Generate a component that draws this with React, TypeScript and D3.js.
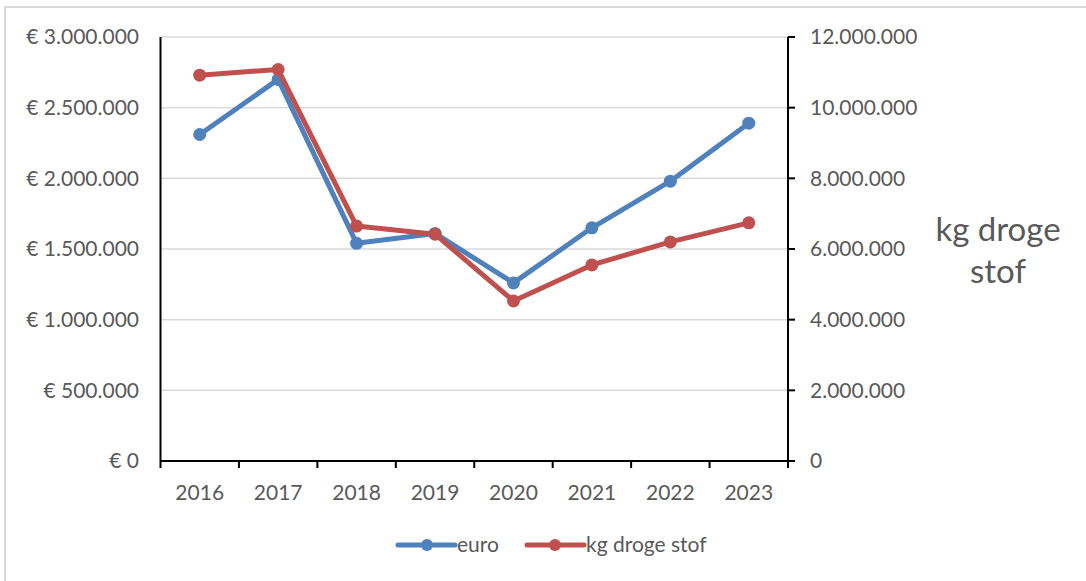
import React from "react";
import * as d3 from "d3";

const years = ["2016", "2017", "2018", "2019", "2020", "2021", "2022", "2023"];
const euro = [2310000, 2700000, 1540000, 1610000, 1260000, 1650000, 1980000, 2390000];
const kgDrogeStof = [10920000, 11080000, 6650000, 6420000, 4530000, 5550000, 6200000, 6740000];
const leftTicks = [0, 500000, 1000000, 1500000, 2000000, 2500000, 3000000];
const rightTicks = [0, 2000000, 4000000, 6000000, 8000000, 10000000, 12000000];

const W = 1086;
const H = 581;
const left = 160.5;
const right = 788;
const top = 37;
const bottom = 461;

const BLUE = "#4F81BD";
const RED = "#C0504D";
const TXT = "#595959";
const FONT = "Lato, 'Open Sans', sans-serif";

const fmt = (v: number) => (v === 0 ? "0" : d3.format(",")(v).replace(/,/g, "."));

export default function App() {
  const x = d3.scaleBand<string>().domain(years).range([left, right]);
  const yL = d3.scaleLinear().domain([0, 3000000]).range([bottom, top]);
  const yR = d3.scaleLinear().domain([0, 12000000]).range([bottom, top]);
  const cx = (d: string) => (x(d) as number) + x.bandwidth() / 2;

  const lineL = d3.line<number>().x((_, i) => cx(years[i])).y((d) => yL(d));
  const lineR = d3.line<number>().x((_, i) => cx(years[i])).y((d) => yR(d));

  const boundaries = years.map((y) => x(y) as number).concat([right]);

  return (
    <svg width={W} height={H} style={{ position: "absolute", left: 0, top: 0 }} fontFamily={FONT}>
      <rect x={0} y={0} width={W} height={H} fill="#fff" />
      <rect x={5} y={7} width={W + 10} height={H + 10} fill="#fff" stroke="#D9D9D9" strokeWidth={2} />
      {leftTicks.map((t) => (
        <line key={"g" + t} x1={left} x2={right} y1={yL(t)} y2={yL(t)} stroke="#D9D9D9" strokeWidth={1.5} />
      ))}
      {leftTicks.map((t) => (
        <text key={"l" + t} x={139} y={yL(t)} dy="0.35em" textAnchor="end" fontSize={21} fill={TXT}>
          {"€ " + fmt(t)}
        </text>
      ))}
      {rightTicks.map((t) => (
        <g key={"r" + t}>
          <line x1={right} x2={right + 7} y1={yR(t)} y2={yR(t)} stroke="#000" strokeWidth={2} />
          <text x={810} y={yR(t)} dy="0.35em" textAnchor="start" fontSize={21} fill={TXT}>
            {fmt(t)}
          </text>
        </g>
      ))}
      <line x1={left} x2={left} y1={top} y2={bottom} stroke="#000" strokeWidth={2} />
      <line x1={right} x2={right} y1={top} y2={bottom} stroke="#000" strokeWidth={2} />
      <line x1={left} x2={right} y1={bottom} y2={bottom} stroke="#000" strokeWidth={2} />
      {boundaries.map((b, i) => (
        <line key={"t" + i} x1={b} x2={b} y1={bottom} y2={bottom + 7} stroke="#000" strokeWidth={2} />
      ))}
      {years.map((y) => (
        <text key={"x" + y} x={cx(y)} y={493} dy="0.35em" textAnchor="middle" fontSize={21} fill={TXT}>
          {y}
        </text>
      ))}
      <text x={998} y={229} dy="0.35em" textAnchor="middle" fontSize={33} fill={TXT}>kg droge</text>
      <text x={998} y={271} dy="0.35em" textAnchor="middle" fontSize={33} fill={TXT}>stof</text>

      <path d={lineL(euro) as string} fill="none" stroke={BLUE} strokeWidth={5} strokeLinejoin="round" strokeLinecap="round" />
      {euro.map((v, i) => (
        <circle key={"be" + i} cx={cx(years[i])} cy={yL(v)} r={6.5} fill={BLUE} />
      ))}
      <path d={lineR(kgDrogeStof) as string} fill="none" stroke={RED} strokeWidth={5} strokeLinejoin="round" strokeLinecap="round" />
      {kgDrogeStof.map((v, i) => (
        <circle key={"rk" + i} cx={cx(years[i])} cy={yR(v)} r={6.5} fill={RED} />
      ))}

      <line x1={398} x2={455} y1={545} y2={545} stroke={BLUE} strokeWidth={5} strokeLinecap="round" />
      <circle cx={427} cy={545} r={6} fill={BLUE} />
      <text x={457} y={545} dy="0.35em" fontSize={21} fill={TXT}>euro</text>
      <line x1={527} x2={584} y1={545} y2={545} stroke={RED} strokeWidth={5} strokeLinecap="round" />
      <circle cx={555} cy={545} r={6} fill={RED} />
      <text x={586} y={545} dy="0.35em" fontSize={21} fill={TXT}>kg droge stof</text>
    </svg>
  );
}
